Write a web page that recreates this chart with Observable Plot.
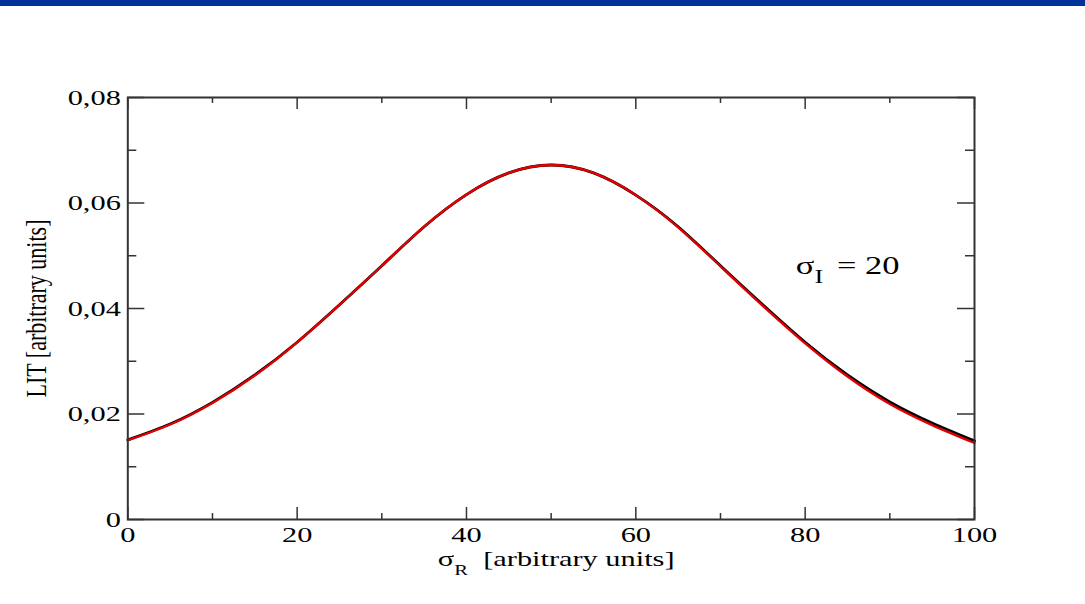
<!DOCTYPE html>
<html><head><meta charset="utf-8">
<script src="https://cdn.jsdelivr.net/npm/d3@7"></script>
<script src="https://cdn.jsdelivr.net/npm/@observablehq/plot@0.6"></script>
<style>
html,body{margin:0;padding:0;background:#fff;overflow:hidden;}
#bar{height:6px;background:#003399;}
#chart svg{display:block;}
</style></head><body>
<div id="bar"></div>
<div id="chart"></div>
<script>
// ---- data ----
const sigmaR   = [0, 5, 10, 15, 20, 25, 30, 35, 40, 45, 50, 55, 60, 65, 70, 75, 80, 85, 90, 95, 100];
const litRed   = [0.0150, 0.0180, 0.0221, 0.0273, 0.0336, 0.0407, 0.0481, 0.0555, 0.0616, 0.0657, 0.0672,
                  0.0657, 0.0615, 0.0554, 0.0480, 0.0405, 0.0334, 0.0271, 0.0219, 0.0179, 0.0145];
const litBlack = [0.0151, 0.0181, 0.0222, 0.0274, 0.0336, 0.0407, 0.0481, 0.0555, 0.0616, 0.0657, 0.0672,
                  0.0657, 0.0615, 0.0555, 0.0481, 0.0407, 0.0336, 0.0274, 0.0223, 0.0183, 0.0149];
const xTicks = [0, 20, 40, 60, 80, 100];
const xTickLabels = ["0", "20", "40", "60", "80", "100"];
const xMinorTicks = [10, 30, 50, 70, 90];
const yTicks = [0, 0.02, 0.04, 0.06, 0.08];
const yTickLabels = ["0", "0,02", "0,04", "0,06", "0,08"];
const yMinorTicks = [0.01, 0.03, 0.05, 0.07];
const xLabel = "σR [arbitrary units]";
const yLabel = "LIT [arbitrary units]";
const annotation = "σI = 20";
const annX = 78.9, annY = 0.0466;

// ---- layout ----
const W = 1085, H = 598;
const mL = 127.3, mR = 111, mT = 91, mB = 85;
const fw = W - mL - mR, fh = H - mT - mB;
const FS = 22;
const axisColor = "#333";

const redData = sigmaR.map((x, i) => ({x, y: litRed[i]}));
const blackData = sigmaR.map((x, i) => ({x, y: litBlack[i]}));

const plot = Plot.plot({
  width: W, height: H,
  marginLeft: mL, marginRight: mR, marginTop: mT, marginBottom: mB,
  x: {domain: [0, 100], axis: null},
  y: {domain: [0, 0.08], axis: null},
  style: {fontFamily: "'Liberation Serif', 'Times New Roman', serif", fontSize: FS + "px", color: "#000", background: "#fff"},
  marks: [
    // tick labels
    Plot.axisX({ticks: xTicks, anchor: "bottom", tickSize: 0, tickPadding: 7, fontSize: FS,
      tickFormat: d => xTickLabels[xTicks.indexOf(d)], label: null}),
    Plot.axisY({ticks: yTicks, anchor: "left", tickSize: 0, tickPadding: 7, fontSize: FS,
      tickFormat: d => yTickLabels[yTicks.indexOf(d)], label: null}),
    // inward ticks, all four sides
    Plot.ruleX(xTicks, {x: d => d, insetTop: fh - 12, stroke: axisColor, strokeWidth: 1.5}),
    Plot.ruleX(xTicks, {x: d => d, insetBottom: fh - 12, stroke: axisColor, strokeWidth: 1.5}),
    Plot.ruleX(xMinorTicks, {x: d => d, insetTop: fh - 6, stroke: axisColor, strokeWidth: 1.5}),
    Plot.ruleX(xMinorTicks, {x: d => d, insetBottom: fh - 6, stroke: axisColor, strokeWidth: 1.5}),
    Plot.ruleY(yTicks, {y: d => d, insetRight: fw - 17, stroke: axisColor, strokeWidth: 1.5}),
    Plot.ruleY(yTicks, {y: d => d, insetLeft: fw - 17, stroke: axisColor, strokeWidth: 1.5}),
    Plot.ruleY(yMinorTicks, {y: d => d, insetRight: fw - 9, stroke: axisColor, strokeWidth: 1.5}),
    Plot.ruleY(yMinorTicks, {y: d => d, insetLeft: fw - 9, stroke: axisColor, strokeWidth: 1.5}),
    // curves
    Plot.line(blackData, {x: "x", y: "y", stroke: "#000", strokeWidth: 2.8, curve: "natural"}),
    Plot.line(redData, {x: "x", y: "y", stroke: "#e30000", strokeWidth: 2.3, curve: "natural"}),
    Plot.frame({stroke: axisColor, strokeWidth: 2}),
    // labels
    Plot.text([annotation], {x: () => annX, y: () => annY, text: d => d, textAnchor: "start", lineAnchor: "bottom", fontSize: 25, fill: "#000"}),
    Plot.text([xLabel], {frameAnchor: "bottom", dy: 46, dx: 5, text: d => d, textAnchor: "middle", lineAnchor: "bottom", fontSize: FS, fill: "#000"}),
    Plot.text([yLabel], {frameAnchor: "left", dx: -85, rotate: -90, text: d => d, textAnchor: "middle", lineAnchor: "bottom", fontSize: FS, fill: "#000"})
  ]
});
document.getElementById("chart").append(plot);

const NS = "http://www.w3.org/2000/svg";
function rich(el, parts) {
  el.textContent = "";
  for (const p of parts) {
    const ts = document.createElementNS(NS, "tspan");
    ts.textContent = p.t;
    if (p.size) ts.setAttribute("font-size", p.size);
    if (p.dy) ts.setAttribute("dy", p.dy);
    if (p.dx) ts.setAttribute("dx", p.dx);
    el.append(ts);
  }
}
plot.querySelectorAll("text").forEach(el => {
  if (el.textContent === xLabel) {
    rich(el, [{t: "σ"}, {t: "R", size: 15, dy: 9}, {t: "[arbitrary units]", dy: -9, dx: 11}]);
  } else if (el.textContent === annotation) {
    rich(el, [{t: "σ"}, {t: "I", size: 19, dy: 9}, {t: "= 20", dy: -9, dx: 10}]);
  }
});

// the reference's type is stretched horizontally
const SX = 1.38;
plot.querySelectorAll("text").forEach(el => {
  const r = el.getBoundingClientRect();
  const ctm = el.getScreenCTM();
  const rotated = Math.abs(ctm.b) > 1e-6;
  const anchor = getComputedStyle(el).textAnchor;
  const ax = rotated ? (r.left + r.right) / 2
    : anchor === "end" ? r.right : anchor === "middle" ? (r.left + r.right) / 2 : r.left;
  const parent = el.parentNode;
  const P = DOMMatrix.fromMatrix(parent.getScreenCTM());
  const S = new DOMMatrix().translate(ax, 0).scale(SX, 1).translate(-ax, 0);
  const L = P.inverse().multiply(S).multiply(P);
  const g = document.createElementNS(NS, "g");
  g.setAttribute("transform", `matrix(${L.a},${L.b},${L.c},${L.d},${L.e},${L.f})`);
  parent.insertBefore(g, el);
  g.append(el);
});
</script>
</body></html>
